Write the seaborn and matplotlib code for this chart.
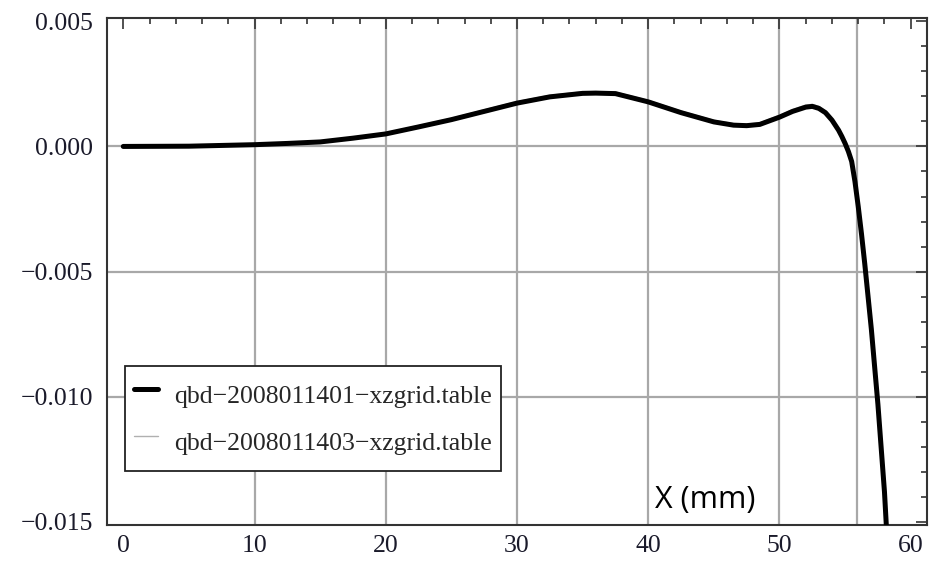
import numpy as np
import pandas as pd
import matplotlib
matplotlib.use("Agg")
import matplotlib.pyplot as plt
import seaborn as sns
from matplotlib.ticker import MultipleLocator

# ---- data ----
x_mm = [0, 5, 10, 12.5, 15, 17.5, 20, 22.5, 25, 27.5, 30, 32.5, 35, 36, 37.5,
        40, 42.5, 45, 46.5, 47.5, 48.5, 50, 51, 52, 52.5, 53, 53.5, 54, 54.5,
        54.75, 55, 55.25, 55.5, 55.75, 56, 56.25, 56.5, 57, 57.5, 58, 58.2]
series_01 = [0, 0.00001, 0.00007, 0.00012, 0.00018, 0.00033, 0.0005, 0.00078,
             0.00107, 0.0014, 0.00173, 0.00198, 0.00212, 0.00213, 0.00211,
             0.00178, 0.00135, 0.00098, 0.00085, 0.00083, 0.00088, 0.00117,
             0.0014, 0.00157, 0.0016, 0.00152, 0.00135, 0.00105, 0.00065,
             0.0004, 0.00012, -0.0002, -0.0006, -0.0014, -0.0024, -0.0035,
             -0.0047, -0.0073, -0.0103, -0.0138, -0.0157]
series_03 = [0, 0.00001, 0.00008, 0.00013, 0.0002, 0.00036, 0.00054, 0.00083,
             0.00112, 0.00146, 0.00179, 0.00204, 0.00218, 0.00219, 0.00217,
             0.00184, 0.00141, 0.00104, 0.00091, 0.00089, 0.00094, 0.00124,
             0.00147, 0.00165, 0.00168, 0.0016, 0.00142, 0.00111, 0.0007,
             0.00045, 0.00017, -0.00015, -0.00055, -0.00135, -0.00235,
             -0.00345, -0.00465, -0.00725, -0.01025, -0.01375, -0.01565]
labels = ["qbd\u22122008011401\u2212xzgrid.table",
          "qbd\u22122008011403\u2212xzgrid.table"]
x_ticks = [0, 10, 20, 30, 40, 50, 60]
y_ticks = [-0.015, -0.010, -0.005, 0.000, 0.005]
x_grid = [10, 20, 30, 40, 50, 55.9]
y_grid = [-0.010, -0.005, 0.000]

df = pd.DataFrame({"x": x_mm * 2,
                   "y": series_01 + series_03,
                   "series": [labels[0]] * len(x_mm) + [labels[1]] * len(x_mm)})

sns.set_theme(style="white")
plt.rcParams["font.family"] = ["Liberation Serif", "DejaVu Serif"]

fig = plt.figure(figsize=(9.39, 5.63), dpi=100)
ax = fig.add_axes([107 / 939, 38 / 563, 820 / 939, 507 / 563])

for g in x_grid:
    ax.axvline(g, color="#a8a8a8", lw=1.6, zorder=0)
for g in y_grid:
    ax.axhline(g, color="#a8a8a8", lw=1.6, zorder=0)

sns.lineplot(data=df[df.series == labels[0]], x="x", y="y", ax=ax,
             color="black", lw=3.6, label=labels[0], zorder=3)
sns.lineplot(data=df[df.series == labels[1]], x="x", y="y", ax=ax,
             color="#b0b0b0", lw=1.0, label=labels[1], zorder=2)

ax.set_xlim(-1.24, 61.24)
ax.set_ylim(-0.01512, 0.00513)
ax.set_xticks(x_ticks)
ax.set_yticks(y_ticks)
ax.set_xticklabels([str(v) for v in x_ticks])
ax.set_yticklabels([f"{v:.3f}".replace("-", "\u2212") for v in y_ticks])
ax.xaxis.set_minor_locator(MultipleLocator(2))
ax.yaxis.set_minor_locator(MultipleLocator(0.001))
ax.tick_params(which="both", direction="in", top=True, right=True,
               color="#333333", width=1.2)
ax.tick_params(which="major", length=8, labelsize=18.5, labelcolor="#1a1a2a")
ax.tick_params(which="minor", length=4.5)
ax.tick_params(axis="x", which="major", pad=7.5)
ax.tick_params(axis="y", which="major", pad=10)
for s in ax.spines.values():
    s.set_color("#333333")
    s.set_linewidth(1.5)
ax.set_xlabel("")
ax.set_ylabel("")

ax.text(0.668, 0.049, "X (mm)", transform=ax.transAxes, family="Open Sans",
        fontsize=22, color="black", ha="left", va="center")

leg = ax.legend(loc="lower left", bbox_to_anchor=(0.022, 0.1065),
                borderaxespad=0, fontsize=18.5, frameon=True, fancybox=False,
                edgecolor="#222222", handlelength=0.95, handletextpad=0.6,
                handleheight=2.0, borderpad=0.35, labelspacing=0.3)
leg.get_frame().set_linewidth(1.3)
leg.get_frame().set_facecolor("white")
leg.get_frame().set_alpha(1)
leg.set_zorder(5)

fig.savefig("out.png", dpi=100, facecolor="white")
